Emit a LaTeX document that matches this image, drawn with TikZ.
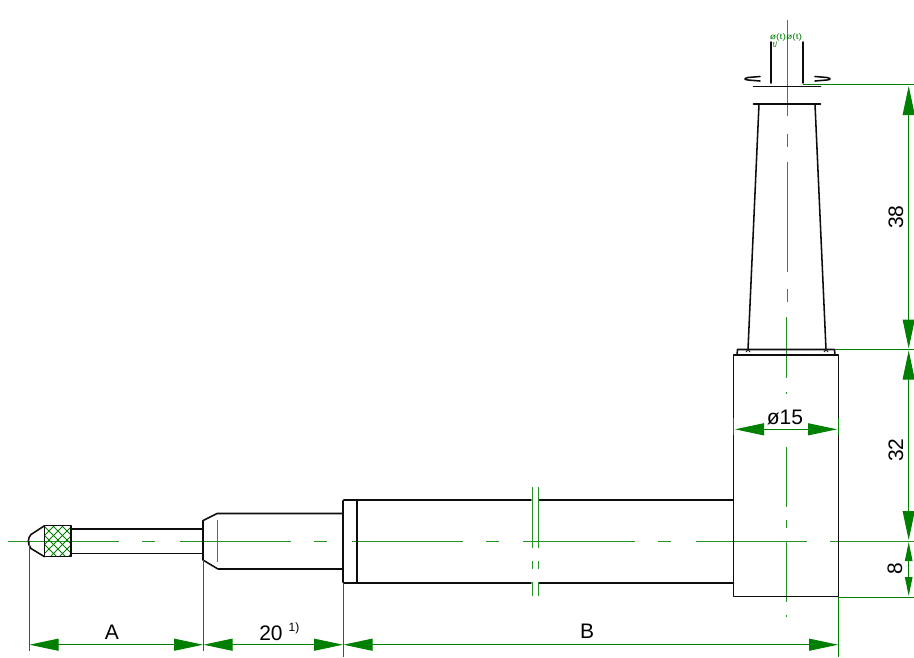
\documentclass[tikz,border=0pt]{standalone}
\usepackage{fontspec}
\setmainfont{Liberation Sans}
\usetikzlibrary{arrows.meta}
\definecolor{dimgreen}{RGB}{0,128,0}
\tikzset{
  outline/.style={draw=black!95,line width=1.55pt,line join=round,line cap=round},
  thin outline/.style={draw=black!90,line width=1pt},
  greenline/.style={draw=dimgreen,line width=1pt},
  axisline/.style={draw=dimgreen!85!white,line width=1pt},
  dimline/.style={draw=dimgreen,line width=1pt,{Triangle[length=29pt,width=12pt,fill=dimgreen]}-{Triangle[length=29pt,width=12pt,fill=dimgreen]}},
  label text/.style={text=black,font=\fontsize{21}{23}\selectfont,inner sep=0pt}
}
\begin{document}
\begin{tikzpicture}[x=1pt,y=-1pt]
\useasboundingbox (0,0) rectangle (914,657);
% centre lines
\foreach \a/\b in {8/119,142/155,180/291,314/327,352/463,486/499,523/635,658/671,696/807,830/914}
  \draw[axisline] (\a,541) -- (\b,541);
\foreach \a/\b in {20/116,134/147,162/272,289/302}
  \draw[axisline] (787,\a) -- (787,\b);
\foreach \a/\b in {317/378,392/394,447/507,520/528,542/602,615/617}
  \draw[axisline] (786,\a) -- (786,\b);
\draw[axisline] (217,520) -- (217,562);
% break marks
\foreach \x in {532,538.5}{
  \draw[axisline] (\x,487) -- (\x,548);
  \draw[axisline] (\x,561) -- (\x,569);
  \draw[axisline] (\x,582) -- (\x,596);
}
% knurl
\begin{scope}
  \clip (44.5,525.7) rectangle (71,556.7);
  \foreach \k in {0,...,9}{
    \draw[dimgreen,line width=0.9pt] (20+9*\k,520) -- (60+9*\k,560);
    \draw[dimgreen,line width=0.9pt] (60+9*\k-40,560) -- (60+9*\k,520);
  }
\end{scope}
\draw[outline] (44.5,525.7) rectangle (71,556.7);
% tip
\draw[outline] (44.5,525.7) -- (31,534.5) .. controls (27.5,538) and (27.5,544) .. (31,548.5) -- (44.5,556.7);
% thin shaft
\draw[outline] (71,529) -- (203,529);
\draw[outline] (71,553.3) -- (203,553.3);
% middle part
\draw[outline] (343,513.5) -- (217,513.5) -- (203,520.5) -- (203,560) -- (218,569) -- (343,569);
% collar and tube
\draw[outline,rounded corners=1pt] (357,500) -- (343,500) -- (343,583) -- (357,583);
\draw[outline] (357,500) -- (357,583);
\draw[outline] (357,500) -- (531,500);
\draw[outline] (539.5,500) -- (733.5,500);
\draw[outline] (357,583) -- (531,583);
\draw[outline] (539.5,583) -- (733.5,583);
% body
\draw[outline] (733.5,355) rectangle (838.5,596.5);
\draw[outline] (737,355) -- (737.5,349.5) -- (834.5,349.5) -- (835,355);
% taper
\draw[outline] (753.5,104) -- (820.5,104);
\draw[outline] (759,104) -- (748,349.5);
\draw[outline] (815,104) -- (826,349.5);
\draw[thin outline] (746,352) -- (748,349.5) -- (750,352);
\draw[thin outline] (824,352) -- (826,349.5) -- (828,352);
% top
\draw[outline] (753.5,86.7) -- (820.5,86.7);
\draw[outline] (771,42) -- (771,83);
\draw[outline] (803,42) -- (803,83);
\draw[outline] (760,76.5) -- (748,77.5) .. controls (744,78.5) and (744,79.5) .. (748,80) -- (760,81);
\draw[outline] (815,76.5) -- (827,77.5) .. controls (831,78.5) and (831,79.5) .. (827,80) -- (815,81);
\node[text=dimgreen,font=\fontsize{8}{8}\selectfont,inner sep=0pt] (toptext) at (786,37.5) {\scalebox{1.3}[1]{ø(t)ø(t)}};
\node[text=dimgreen,font=\fontsize{8}{8}\selectfont,inner sep=0pt] (toptextb) at (775,44.5) {t/};
% extension lines
\draw[greenline] (803,84) -- (914,84);
\draw[greenline] (835,349.5) -- (914,349.5);
\draw[greenline] (838.5,597) -- (914,597);
\draw[greenline] (29,541) -- (29,651);
\draw[greenline] (203,560) -- (203,651);
\draw[greenline] (343,583) -- (343,657);
\draw[greenline] (838.5,597) -- (838.5,657);
\draw[greenline] (733.5,418) -- (733.5,435);
\draw[greenline] (838.5,418) -- (838.5,435);
% dimension lines
\draw[dimline] (29.5,644.7) -- (203,644.7);
\draw[dimline] (203.5,644.7) -- (343,644.7);
\draw[dimline] (343.5,644.7) -- (838,644.7);
\draw[dimline] (735,429.3) -- (837,429.3);
\draw[dimline] (908.7,86) -- (908.7,348.5);
\draw[dimline] (908.7,350.5) -- (908.7,540);
\draw[greenline,{Triangle[length=19pt,width=7.5pt,fill=dimgreen]}-{Triangle[length=19pt,width=7.5pt,fill=dimgreen]}] (908.7,542) -- (908.7,596);
% labels
\node[label text] (la) at (112,632) {A};
\node[label text] (l20) at (271,633) {20};
\node[text=black,font=\fontsize{12}{12}\selectfont,inner sep=0pt] (lsup) at (294,628) {1)};
\node[label text] (lb) at (587,631) {B};
\node[label text] (l15) at (785,417) {ø15};
\node[label text,rotate=90] (l38) at (896,217) {38};
\node[label text,rotate=90] (l32) at (896,450) {32};
\node[label text,rotate=90] (l8) at (895,569) {8};
\end{tikzpicture}
\end{document}
